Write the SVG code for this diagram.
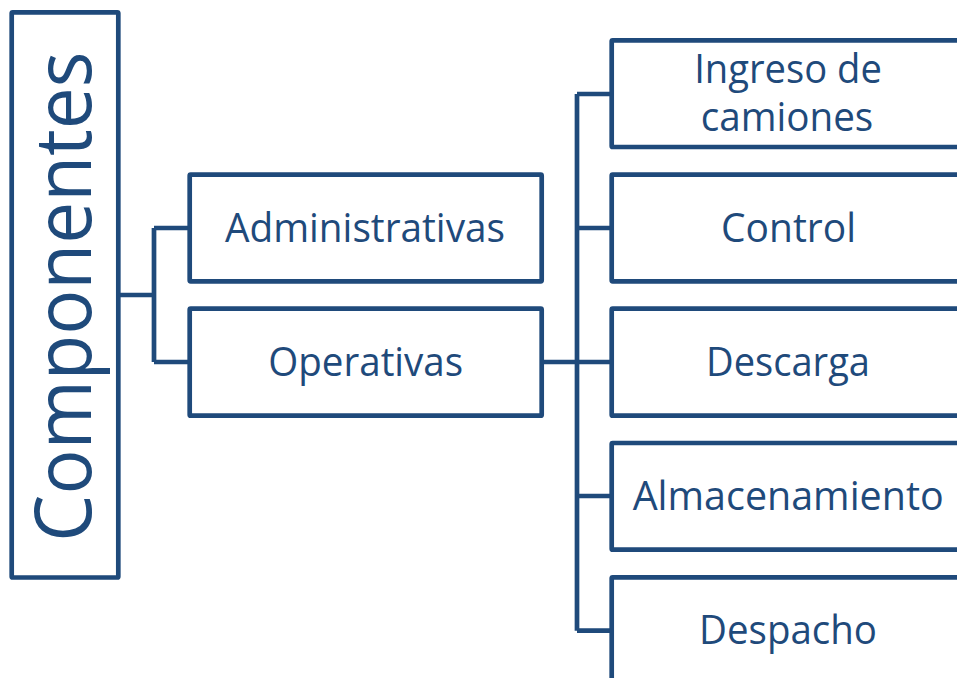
<svg xmlns="http://www.w3.org/2000/svg" width="957" height="678" viewBox="0 0 957 678">
  <style>
    .box { fill: #ffffff; stroke: #1F4A7B; stroke-width: 4.7; stroke-linejoin: round; }
    .conn { fill: none; stroke: #1F4A7B; stroke-width: 4.7; stroke-linejoin: round; stroke-linecap: butt; }
    .lbl { font-family: "Open Sans", "Noto Sans", "Liberation Sans", sans-serif; fill: #1F4A7B; text-anchor: middle; }
  </style>
  <rect width="957" height="678" fill="#ffffff"/>
  <g id="connectors">
    <path class="conn" d="M118.3 295 H154 M154 228 V362 M154 228 H189.7 M154 362 H189.7"/>
    <path class="conn" d="M541.7 362 H577 M577 94 V630.7 M577 94 H611.7 M577 228 H611.7 M577 362 H611.7 M577 496 H611.7 M577 630.7 H611.7"/>
  </g>
  <g id="componentes">
    <rect class="box" x="11.7" y="12.3" width="106.6" height="565.2" rx="1"/>
    <text class="lbl" transform="translate(90.7,296.7) rotate(-90)" font-size="78" textLength="490" lengthAdjust="spacingAndGlyphs">Componentes</text>
  </g>
  <g id="administrativas">
    <rect class="box" x="189.7" y="174.7" width="352" height="106.6" rx="1"/>
    <text class="lbl" x="365" y="241.7" font-size="41" textLength="280" lengthAdjust="spacingAndGlyphs">Administrativas</text>
  </g>
  <g id="operativas">
    <rect class="box" x="189.7" y="308.7" width="352" height="107" rx="1"/>
    <text class="lbl" x="365.7" y="375.7" font-size="41" textLength="195" lengthAdjust="spacingAndGlyphs">Operativas</text>
  </g>
  <g id="ingreso">
    <rect class="box" x="611.7" y="40.3" width="360" height="106.7" rx="1"/>
    <text class="lbl" x="788" y="82.7" font-size="40" textLength="187.7" lengthAdjust="spacingAndGlyphs">Ingreso de</text>
    <text class="lbl" x="787" y="131" font-size="40" textLength="172.6" lengthAdjust="spacingAndGlyphs">camiones</text>
  </g>
  <g id="control">
    <rect class="box" x="611.7" y="174.7" width="360" height="106.6" rx="1"/>
    <text class="lbl" x="788.5" y="241.7" font-size="41" textLength="135" lengthAdjust="spacingAndGlyphs">Control</text>
  </g>
  <g id="descarga">
    <rect class="box" x="611.7" y="308.7" width="360" height="107" rx="1"/>
    <text class="lbl" x="788" y="375.7" font-size="41" textLength="164" lengthAdjust="spacingAndGlyphs">Descarga</text>
  </g>
  <g id="almacenamiento">
    <rect class="box" x="611.7" y="443" width="360" height="106.7" rx="1"/>
    <text class="lbl" x="788.2" y="509.7" font-size="41" textLength="311" lengthAdjust="spacingAndGlyphs">Almacenamiento</text>
  </g>
  <g id="despacho">
    <rect class="box" x="611.7" y="577.3" width="360" height="106.7" rx="1"/>
    <text class="lbl" x="788" y="643.7" font-size="41" textLength="178" lengthAdjust="spacingAndGlyphs">Despacho</text>
  </g>
</svg>
